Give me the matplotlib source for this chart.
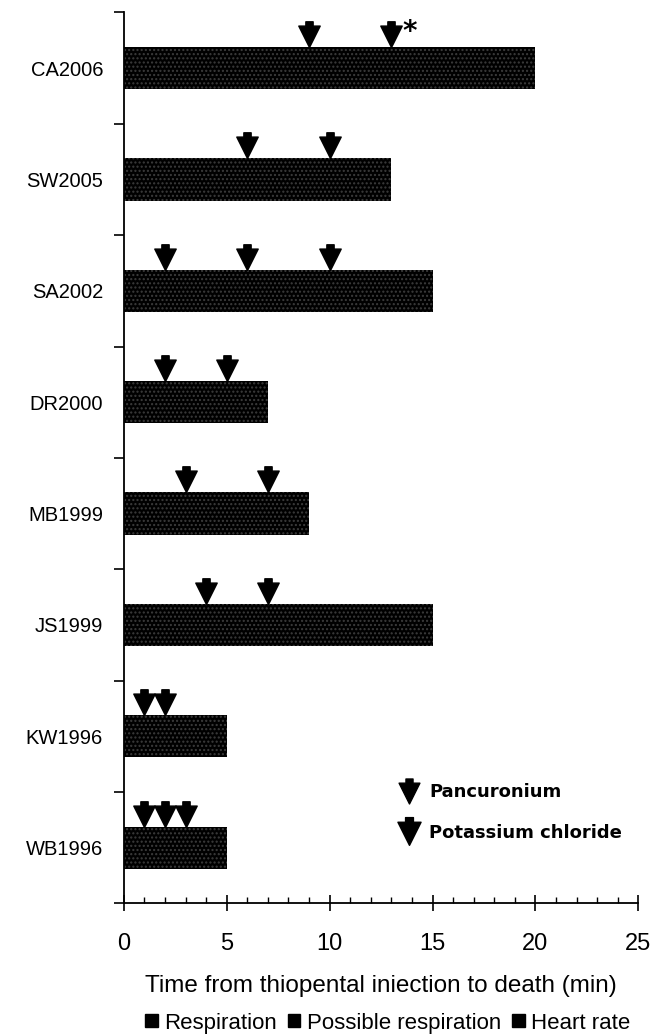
import matplotlib
matplotlib.use('Agg')
import matplotlib.pyplot as plt
import numpy as np
from matplotlib.path import Path
from matplotlib.lines import Line2D
from matplotlib.patches import Patch

# chart data
cases = ['CA2006', 'SW2005', 'SA2002', 'DR2000', 'MB1999', 'JS1999', 'KW1996', 'WB1996']
time_to_death = [20, 13, 15, 7, 9, 15, 5, 5]
pancuronium = [9, 6, 2, 2, 3, 4, 1, 1]
potassium = [[13], [10], [6, 10], [5], [7], [7], [2], [2, 3]]
bar_legend = ['Respiration', 'Possible respiration', 'Heart rate']

plt.rcParams['font.family'] = ['Liberation Sans', 'DejaVu Sans']

# down arrow with a short stem, tip at the origin
arrow_xy = [(0, 0), (-0.5, 1.0), (-0.17, 1.0), (-0.17, 1.2),
            (0.17, 1.2), (0.17, 1.0), (0.5, 1.0), (0, 0)]
arrow_codes = [Path.MOVETO] + [Path.LINETO] * 6 + [Path.CLOSEPOLY]
arrow = Path(arrow_xy, arrow_codes)
# same arrow, centred, for the legend
arrow_c = Path([(px, py - 0.6) for px, py in arrow_xy], arrow_codes)

fig = plt.figure(figsize=(6.52, 10.36), dpi=100)
ax = fig.add_axes([0.190, 0.128, 0.789, 0.860])

y = np.arange(len(cases))
bar_h = 0.38
ax.barh(y, time_to_death, height=bar_h, color='black',
        edgecolor='#3c3c3c', linewidth=0, hatch='....')

bar_top = y - bar_h / 2
ax.plot(pancuronium, bar_top, linestyle='none', marker=arrow,
        markersize=37, color='black')
for top, xs in zip(bar_top, potassium):
    ax.plot(xs, [top] * len(xs), linestyle='none', marker=arrow,
            markersize=37, color='black')

# asterisk next to the last CA2006 arrow
ax.text(potassium[0][-1] + 0.9, bar_top[0] - 0.13, '*', fontsize=20,
        fontweight='bold', family='DejaVu Sans', ha='center', va='center')

ax.set_xlim(0, 25)
ax.set_ylim(len(cases) - 0.5, -0.5)

ax.set_xticks(np.arange(0, 26, 5))
ax.set_xticks(np.arange(0, 26, 1), minor=True)
ax.tick_params(axis='x', which='major', direction='inout', length=12,
               width=1.2, labelsize=17, pad=15)
ax.tick_params(axis='x', which='minor', direction='in', length=4, width=1)

ax.set_yticks(np.arange(-0.5, len(cases), 1))
ax.set_yticklabels([])
ax.set_yticks(y, minor=True)
ax.set_yticklabels(cases, minor=True)
ax.tick_params(axis='y', which='major', direction='out', length=7, width=1.2)
ax.tick_params(axis='y', which='minor', length=0, labelsize=14.5, pad=15)

for side in ['top', 'right']:
    ax.spines[side].set_visible(False)
for side in ['left', 'bottom']:
    ax.spines[side].set_linewidth(1.3)

ax.set_xlabel('Time from thiopental iniection to death (min)', fontsize=17.5,
              labelpad=15)

drug_handles = [
    Line2D([], [], linestyle='none', marker=arrow_c, markersize=18, color='black'),
    Line2D([], [], linestyle='none', marker=arrow_c, markersize=20, color='black'),
]
ax.legend(drug_handles, ['Pancuronium', 'Potassium chloride'], loc='upper left',
          bbox_to_anchor=(0.523, 0.145), frameon=False, handlelength=0.8,
          handletextpad=0.7, labelspacing=1.25, borderpad=0,
          prop={'family': 'DejaVu Sans', 'weight': 'bold', 'size': 13})

bar_handles = [Patch(facecolor='black', edgecolor='black') for _ in bar_legend]
fig.legend(bar_handles, bar_legend, loc='center', bbox_to_anchor=(0.595, 0.0125),
           ncol=3, frameon=False, handlelength=0.55, handleheight=0.55,
           handletextpad=0.3, columnspacing=0.5, fontsize=16, borderpad=0)

fig.savefig('out.png', dpi=100)
